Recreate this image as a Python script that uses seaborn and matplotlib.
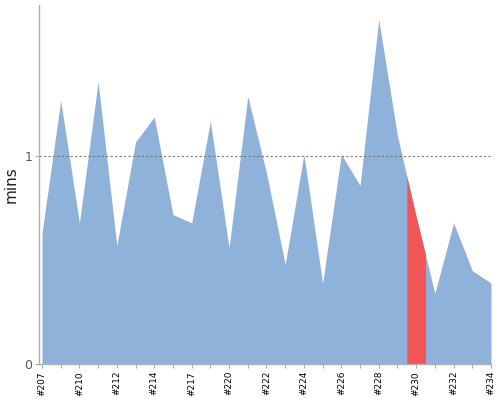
import numpy as np
import matplotlib
matplotlib.use('Agg')
import matplotlib.pyplot as plt
import seaborn as sns

# build numbers and duration (minutes)
builds = ['#207', '#208', '#210', '#211', '#212', '#213', '#214', '#215', '#217',
          '#218', '#220', '#221', '#222', '#223', '#224', '#225', '#226', '#227',
          '#228', '#229', '#230', '#231', '#232', '#233', '#234']
durations = [0.63, 1.27, 0.68, 1.36, 0.57, 1.07, 1.19, 0.72, 0.68,
             1.17, 0.56, 1.29, 0.92, 0.48, 1.01, 0.39, 1.01, 0.86,
             1.66, 1.10, 0.71, 0.34, 0.68, 0.45, 0.39]
status = ['SUCCESS'] * 20 + ['FAILURE'] + ['SUCCESS'] * 4
shown_labels = ['#207', '#210', '#212', '#214', '#217', '#220', '#222',
                '#224', '#226', '#228', '#230', '#232', '#234']

colors = {'SUCCESS': '#8FB2DA', 'FAILURE': '#F25555'}

sns.set_theme(style='white')
plt.rcParams['font.family'] = ['DejaVu Sans']

fig = plt.figure(figsize=(5, 4), dpi=100)
ax = fig.add_axes([0.078, 0.09, 0.904, 0.8975])

x = np.arange(len(builds))
y = np.array(durations)

# whole area in the success colour first, then other results on top
ax.fill_between(x, 0, y, color=colors['SUCCESS'], linewidth=0)

# each build owns the band from the midpoint before it to the midpoint after it
for i, st in enumerate(status):
    if st == 'SUCCESS':
        continue
    lo = max(i - 0.5, 0)
    hi = min(i + 0.5, len(builds) - 1)
    xs = np.array([lo] + [p for p in x if lo < p < hi] + [hi], dtype=float)
    ys = np.interp(xs, x, y)
    ax.fill_between(xs, 0, ys, color=colors[st], linewidth=0)

ax.axhline(1, color='#777777', linestyle=(0, (2, 2)), linewidth=0.8)

ax.set_xlim(-0.16, len(builds) - 1)
ax.set_ylim(0, 1.73)
ax.set_yticks([0, 1])
ax.set_yticklabels(['0', '1'], color='#555555', fontsize=9)
ax.set_xticks(x)
ax.set_xticklabels([b if b in shown_labels else '' for b in builds],
                   rotation=90, fontsize=6.5, color='black')
ax.tick_params(axis='both', which='major', length=3, width=0.8,
               color='#aaaaaa', direction='out', bottom=True, left=True, pad=2)
ax.set_ylabel('mins', fontsize=11, color='#222222', labelpad=4)

sns.despine(ax=ax, top=True, right=True)
for s in ['left', 'bottom']:
    ax.spines[s].set_color('#b0b0b0')
    ax.spines[s].set_linewidth(1)

fig.savefig('out.png', dpi=100)
